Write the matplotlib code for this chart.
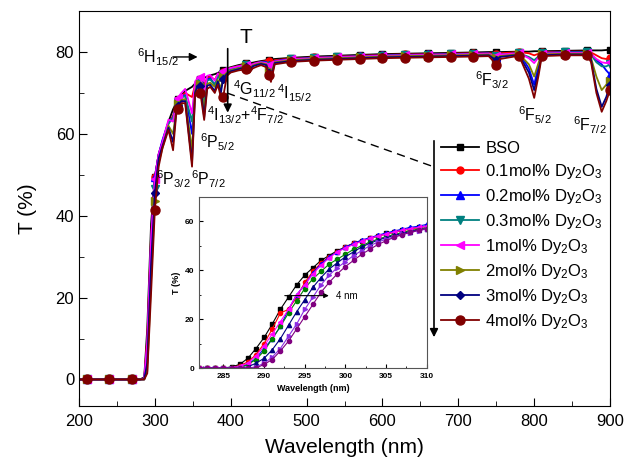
import matplotlib
matplotlib.use("Agg")
import matplotlib.pyplot as plt
from matplotlib.ticker import MultipleLocator
from matplotlib.patches import FancyArrowPatch

plt.rcParams['font.family'] = ['Liberation Sans', 'DejaVu Sans']
plt.rcParams['mathtext.default'] = 'regular'

# main transmission spectra
wl = [200, 210, 240, 270, 280, 286, 290, 295, 300, 305,
      310, 318, 324, 328, 330, 335, 340, 349, 353, 356,
      360, 365, 369, 373, 379, 383, 387, 390, 395, 400,
      410, 420, 425, 429, 434, 440, 447, 450, 453, 458,
      480, 510, 540, 570, 600, 630, 660, 690, 720, 740,
      745, 750, 755, 780, 793, 800, 806, 810, 840, 870,
      875, 882, 889, 895, 900]

t_bso = [0, 0, 0, 0, 0, 0.5, 12.5, 38, 49.5, 55,
         58, 63, 66, 67.5, 68.5, 69.5, 70.5, 71.5, 72.3, 72.9,
         73.3, 73.7, 74, 74.3, 74.6, 74.9, 75.3, 75.6, 76, 76.3,
         76.8, 77.2, 77.3, 77.4, 77.6, 77.8, 78, 78.1, 78.2, 78.3,
         78.6, 78.9, 79.1, 79.3, 79.5, 79.6, 79.7, 79.8, 79.9, 80,
         80, 80, 80, 80.1, 80.1, 80.2, 80.2, 80.2, 80.3, 80.4,
         80.4, 80.4, 80.4, 80.5, 80.5]
t_01 = [0, 0, 0, 0, 0, 0.3, 10, 35, 49.5, 55,
        58, 62.5, 64.5, 67, 68.3, 69.3, 70, 69, 72, 72.7,
        73.1, 72, 73.6, 74, 73.2, 74.6, 74, 75.2, 75.8, 76.1,
        76.6, 77, 76.6, 77.1, 77.4, 77.6, 77.8, 77.7, 77.3, 78,
        78.4, 78.7, 78.9, 79.1, 79.3, 79.4, 79.5, 79.6, 79.7, 79.8,
        79.6, 79.4, 79.7, 80, 79.7, 79.2, 79.6, 80, 80.1, 80.1,
        79.9, 79.2, 78.5, 78.3, 78.5]
t_02 = [0, 0, 0, 0, 0, 0.2, 8, 34, 49.5, 55,
        58.5, 63, 64, 66.8, 68.1, 69.1, 69.5, 60, 71.5, 72.5,
        73, 68, 73.3, 73.6, 72, 74.3, 73.3, 74.9, 75.6, 76,
        76.5, 76.9, 76, 77, 77.3, 77.6, 77.6, 76.8, 75.5, 77.8,
        78.3, 78.6, 78.8, 79, 79.2, 79.3, 79.4, 79.5, 79.6, 79.7,
        79, 78.5, 79.3, 79.8, 76, 72, 77, 79.8, 80, 80,
        79.5, 78, 77, 75.5, 74.5]
t_03 = [0, 0, 0, 0, 0, 0.1, 7, 32.5, 46.5, 53.5,
        57.5, 62.5, 64, 66.5, 67.8, 68.8, 69.3, 63, 71.2, 72.2,
        72.7, 67, 73, 73.3, 72, 74, 73.2, 74.7, 75.4, 75.8,
        76.3, 76.8, 76.2, 76.9, 77.2, 77.5, 77.4, 76.5, 75.3, 77.6,
        78.2, 78.5, 78.7, 78.9, 79.1, 79.2, 79.3, 79.4, 79.5, 79.6,
        79.3, 79, 79.4, 79.7, 78.8, 78, 79, 79.7, 79.9, 79.9,
        79.3, 77.5, 76.5, 76.5, 77]
t_1 = [0, 0, 0, 0, 0, 0.2, 9, 34, 49, 55,
       58, 63.5, 63, 67.5, 68.8, 70, 71, 65, 72.8, 73.5,
       74, 70, 74.2, 74.4, 73, 74.8, 74, 75.3, 75.8, 76.1,
       76.5, 76.9, 76.5, 77, 77.3, 77.5, 77.3, 76.8, 76, 77.7,
       78.2, 78.5, 78.7, 78.9, 79.1, 79.2, 79.3, 79.4, 79.5, 79.6,
       79.3, 79, 79.4, 79.7, 78.5, 77.3, 78.8, 79.6, 79.8, 79.8,
       79.5, 78.3, 77.5, 77.3, 77.6]
t_2 = [0, 0, 0, 0, 0, 0, 2, 24, 43.5, 53,
       56.5, 62, 60, 65.5, 67.2, 68.3, 68.5, 56, 70.5, 71.8,
       72.2, 66, 72.2, 72.5, 71.5, 73.2, 71, 74, 75, 75.5,
       76, 76.5, 76, 76.7, 77, 77.3, 77, 75.5, 74.5, 77.5,
       78, 78.3, 78.5, 78.7, 78.9, 79, 79.1, 79.2, 79.3, 79.4,
       79, 78.5, 79, 79.5, 77, 74, 77.5, 79.4, 79.6, 79.6,
       78.5, 74, 70.7, 72, 73]
t_3 = [0, 0, 0, 0, 0, 0, 4, 28, 45.5, 54,
       57, 61.5, 58, 65, 66.8, 68, 68, 53, 70, 71.5,
       71.8, 64, 71.8, 72, 70.5, 72.8, 70, 73.5, 74.7, 75.3,
       75.8, 76.3, 75.5, 76.5, 76.8, 77.1, 76.8, 75, 73.5, 77.3,
       77.8, 78.1, 78.3, 78.5, 78.7, 78.8, 78.9, 79, 79.1, 79.2,
       78.6, 78, 78.8, 79.3, 75, 70.7, 75.5, 79.2, 79.4, 79.4,
       78, 71, 66.6, 69, 72]
t_4 = [0, 0, 0, 0, 0, 0, 1.5, 21, 41.5, 52,
       56.5, 61, 56, 64.5, 66, 67.5, 67.5, 52, 69.5, 70.5,
       70, 63.4, 71, 71.5, 70, 72, 69, 69, 74.2, 75,
       75.5, 75.8, 75, 76, 76.4, 76.8, 76.3, 74.5, 72.7, 77,
       77.6, 77.9, 78.1, 78.3, 78.5, 78.6, 78.7, 78.8, 78.9, 79,
       78, 76.8, 78.3, 79.1, 73.5, 68.8, 74.5, 79, 79.2, 79.2,
       77.5, 70, 65.4, 68, 70.7]

labels = ['BSO', '0.1mol% Dy$_2$O$_3$', '0.2mol% Dy$_2$O$_3$', '0.3mol% Dy$_2$O$_3$',
          '1mol% Dy$_2$O$_3$', '2mol% Dy$_2$O$_3$', '3mol% Dy$_2$O$_3$', '4mol% Dy$_2$O$_3$']
series = [t_bso, t_01, t_02, t_03, t_1, t_2, t_3, t_4]
colors = ['black', 'red', 'blue', '#008080', '#FF00FF', '#808000', '#000080', '#800000']
markers = ['s', 'o', '^', 'v', '<', '>', 'D', 'o']
msizes = [5, 5, 5.5, 5.5, 5.5, 5.5, 4.5, 6.5]

# inset (zoom on absorption edge)
wl_in = [282, 283, 284, 285, 286, 287, 288, 289, 290, 291, 292, 293, 294, 295, 296,
         297, 298, 299, 300, 301, 302, 303, 304, 305, 306, 307, 308, 309, 310]
in_bso = [0, 0, 0, 0, 0.5, 1.5, 4, 8, 12.5, 18, 24, 29, 34, 38, 41,
          44, 46, 48, 49.5, 51, 52, 53, 54, 55, 55.7, 56.3, 57, 57.5, 58]
in_01 = [0, 0, 0, 0, 0.2, 1, 2.5, 5.5, 10, 16, 22.5, 24, 29, 35, 39.5,
         43, 45.5, 47.5, 49.5, 51, 52, 53, 54, 54.7, 55.5, 56.2, 56.8, 57.4, 58]
in_02 = [0, 0, 0, 0, 0.1, 0.5, 1.5, 4, 8, 12, 17, 24, 30, 34, 39,
         42.5, 45.5, 47.5, 49.5, 51, 52.3, 53.3, 54.3, 55.2, 56, 56.8, 57.5, 58, 58.7]
in_03 = [0, 0, 0, 0, 0, 0.3, 1.5, 3.5, 7, 12, 17, 22.5, 27.5, 32.5, 36.5,
         39.5, 42.5, 44.5, 46.5, 48.5, 50, 51.5, 52.7, 53.7, 54.6, 55.4, 56.2, 56.8, 57.4]
in_1 = [0, 0, 0, 0, 0.1, 0.7, 2, 5, 9, 14, 19, 24, 30, 34, 38.5,
        42, 45, 47.5, 49, 50.5, 51.8, 53, 54, 54.8, 55.6, 56.3, 57, 57.5, 58]
in_2 = [0, 0, 0, 0, 0, 0, 0.5, 2, 4, 7.5, 12, 17.5, 23, 28, 33,
        37, 40.5, 43, 45.5, 47.5, 49.5, 51, 52.3, 53.3, 54.2, 55, 55.8, 56.5, 57]
in_3 = [0, 0, 0, 0, 0, 0, 0, 0.5, 2, 4.5, 8, 13, 18, 24, 29,
        34, 38, 41, 43.5, 46, 48, 50, 51.5, 52.7, 53.7, 54.6, 55.4, 56.2, 56.8]
in_4 = [0, 0, 0, 0, 0, 0, 0, 0, 1.5, 3.5, 7, 11, 16, 21, 26,
        31, 35, 38.5, 41.5, 44, 46.5, 48.5, 50.5, 52, 53.5, 54.5, 55.5, 56.3, 57]
in_series = [in_bso, in_01, in_02, in_03, in_1, in_2, in_3, in_4]
in_colors = ['black', 'red', 'blue', '#008000', '#FF00FF', '#000080', '#8A2BE2', '#800080']
in_markers = ['s', 'o', '^', 'o', '<', '^', '>', 'o']

fig = plt.figure(figsize=(6.36, 4.63), dpi=100)
ax = fig.add_axes([0.1242, 0.123, 0.835, 0.853])

mk = [i for i, w in enumerate(wl) if (w - 210) % 30 == 0]
handles = []
for y, c, m, s, lab in zip(series, colors, markers, msizes, labels):
    h, = ax.plot(wl, y, color=c, marker=m, markersize=s, markevery=mk, lw=1.3, label=lab)
    handles.append(h)

ax.set_xlim(200, 900)
ax.set_ylim(-6.5, 90)
ax.xaxis.set_major_locator(MultipleLocator(100))
ax.xaxis.set_minor_locator(MultipleLocator(50))
ax.yaxis.set_major_locator(MultipleLocator(20))
ax.yaxis.set_minor_locator(MultipleLocator(10))
ax.tick_params(which='both', direction='in', labelsize=12)
ax.tick_params(which='major', length=6)
ax.tick_params(which='minor', length=3.5)
ax.tick_params(axis='x', pad=6)
ax.set_xlabel('Wavelength (nm)', fontsize=15, labelpad=6)
ax.set_ylabel('T (%)', fontsize=15, labelpad=13)

# level labels
fs = 11.5
ax.text(276, 78.8, '$^6$H$_{15/2}$', fontsize=fs, va='center')
ax.annotate('', xy=(360, 78.8), xytext=(320, 78.8),
            arrowprops=dict(arrowstyle='-|>', color='black', lw=1, mutation_scale=12))
ax.text(420, 83.5, 'T', fontsize=15, ha='center', va='center')
ax.annotate('', xy=(396, 64.5), xytext=(396, 81.5),
            arrowprops=dict(arrowstyle='-|>', color='black', lw=1.2, mutation_scale=12))
ax.text(403, 71, '$^4$G$_{11/2}$', fontsize=fs, va='center')
ax.text(461, 70, '$^4$I$_{15/2}$', fontsize=fs, va='center')
ax.text(369, 64.5, '$^4$I$_{13/2}$+$^4$F$_{7/2}$', fontsize=fs, va='center')
ax.text(359, 58, '$^6$P$_{5/2}$', fontsize=fs, va='center')
ax.text(301, 49, '$^6$P$_{3/2}$', fontsize=fs, va='center')
ax.text(348, 49, '$^6$P$_{7/2}$', fontsize=fs, va='center')
ax.text(722, 73, '$^6$F$_{3/2}$', fontsize=fs, va='center')
ax.text(779, 64.5, '$^6$F$_{5/2}$', fontsize=fs, va='center')
ax.text(851, 62, '$^6$F$_{7/2}$', fontsize=fs, va='center')
ax.plot([395, 667], [70, 52], color='black', lw=1, ls=(0, (6, 4)))

# legend + arrow along its left side
leg = ax.legend(handles=handles, loc='upper left', bbox_to_anchor=(441 / 636, 1 - 141 / 463),
                bbox_transform=fig.transFigure, fontsize=12, frameon=False,
                borderpad=0, labelspacing=0.36, handlelength=2.3, handletextpad=0.35,
                borderaxespad=0)
fig.patches.append(FancyArrowPatch(
    (434 / 636, 1 - 138 / 463), (434 / 636, 1 - 340 / 463), transform=fig.transFigure,
    arrowstyle='-|>', mutation_scale=12, color='black', lw=1.2))

# inset
ins = fig.add_axes([0.313, 0.205, 0.358, 0.370])
for y, c, m in zip(in_series, in_colors, in_markers):
    ins.plot(wl_in, y, color=c, marker=m, markersize=3, lw=0.8)
ins.set_xlim(282, 310)
ins.set_ylim(0, 70)
ins.xaxis.set_major_locator(MultipleLocator(5))
ins.xaxis.set_minor_locator(MultipleLocator(2.5))
ins.yaxis.set_major_locator(MultipleLocator(20))
ins.yaxis.set_minor_locator(MultipleLocator(10))
ins.tick_params(which='both', direction='in', labelsize=6, length=3)
ins.tick_params(which='minor', length=1.5)
for lab in ins.get_xticklabels() + ins.get_yticklabels():
    lab.set_fontweight('bold')
for sp in ins.spines.values():
    sp.set_color('#555555')
ins.set_xlabel('Wavelength (nm)', fontsize=6.5, fontweight='bold', labelpad=3)
ins.set_ylabel('T (%)', fontsize=6.5, fontweight='bold', labelpad=3)
ins.annotate('', xy=(298.3, 29.6), xytext=(292.2, 29.6),
             arrowprops=dict(arrowstyle='-|>', color='black', lw=0.8, mutation_scale=7))
ins.text(298.9, 29.6, '4 nm', fontsize=7, va='center')

fig.savefig('out.png', dpi=100)
